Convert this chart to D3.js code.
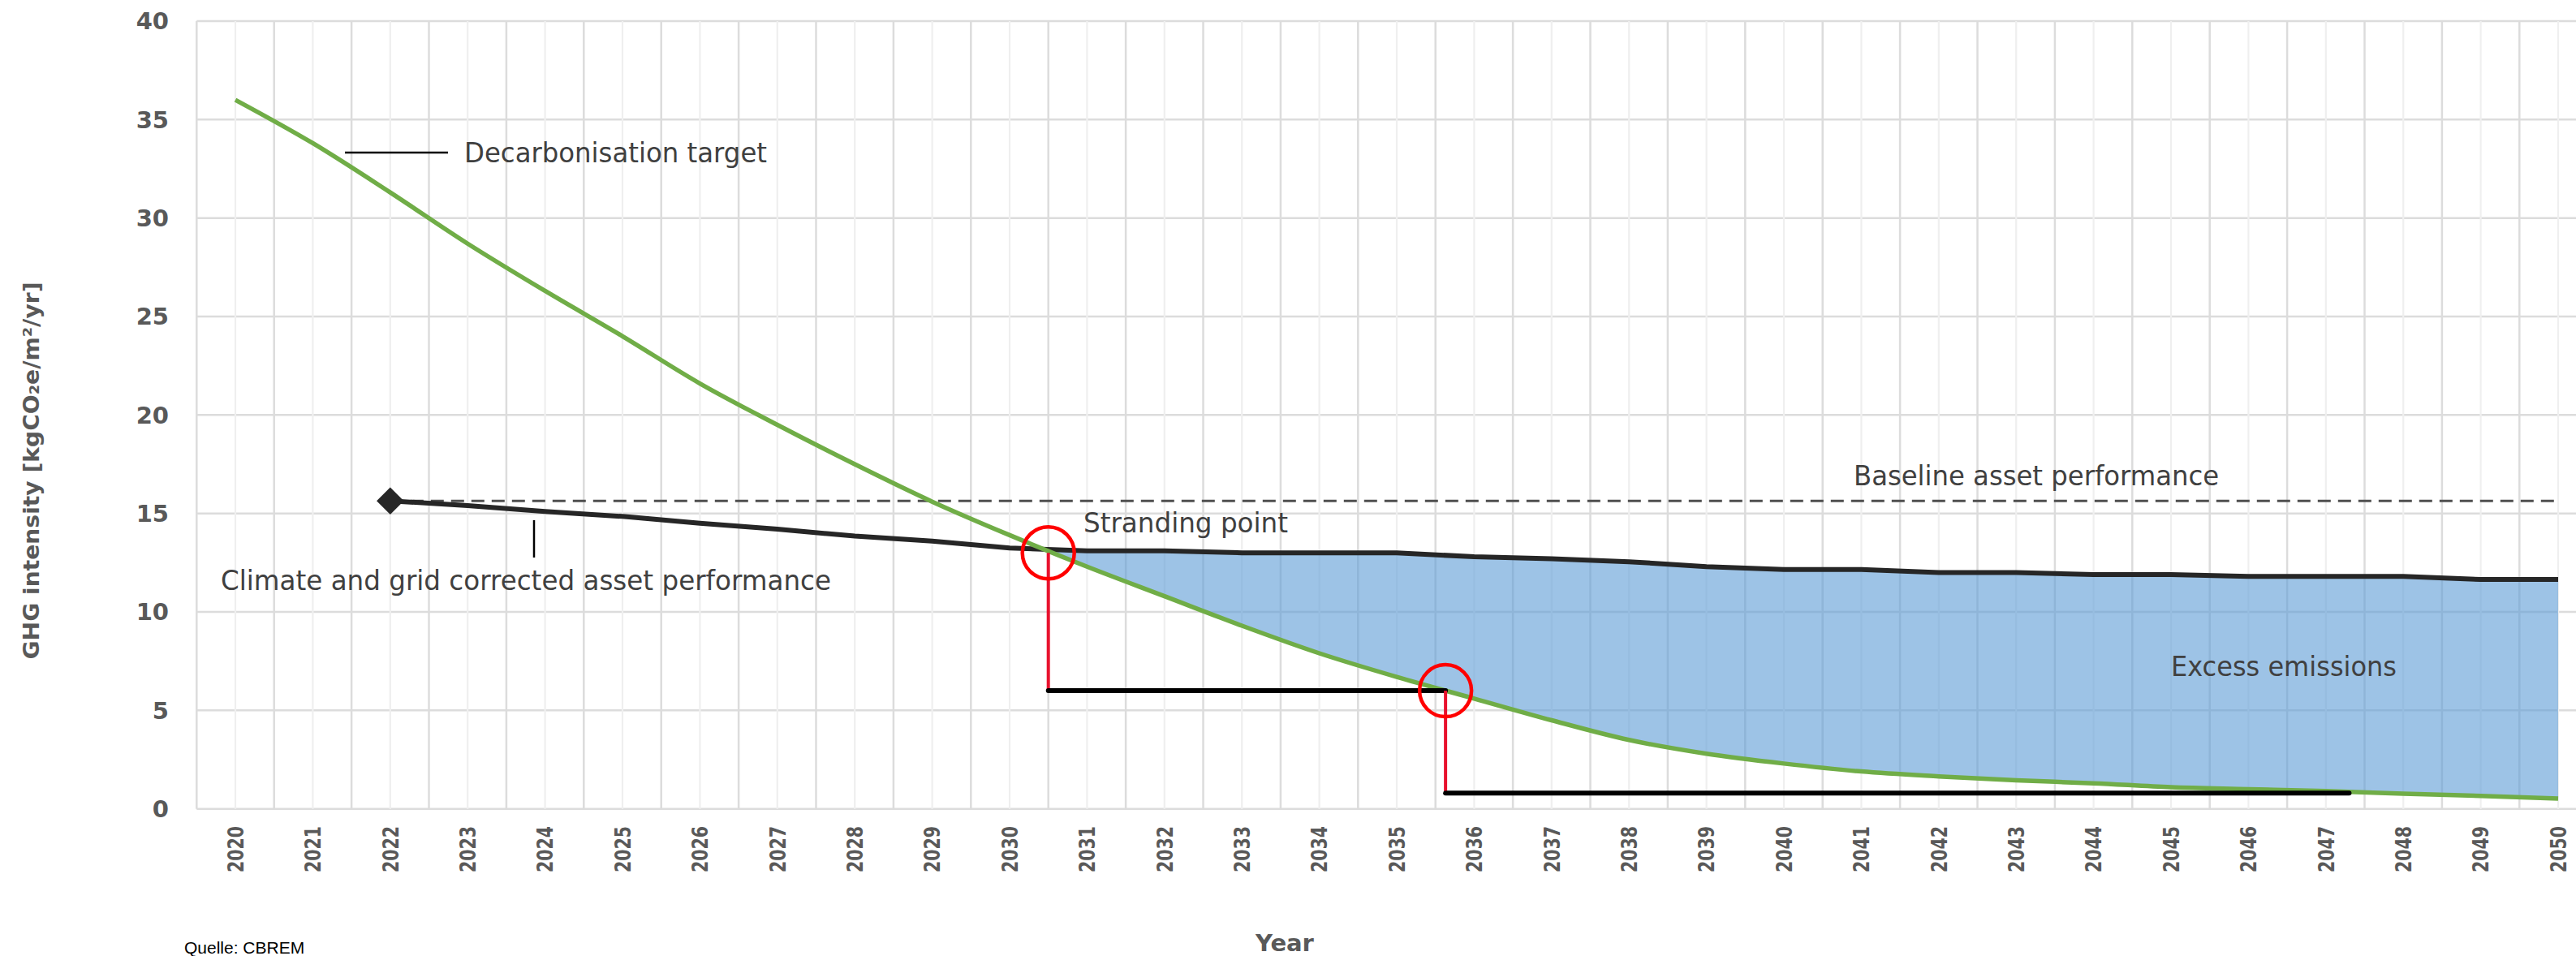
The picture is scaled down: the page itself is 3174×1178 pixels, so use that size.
<!DOCTYPE html>
<html>
<head>
<meta charset="utf-8">
<script src="https://cdn.jsdelivr.net/npm/d3@7"></script>
<style>
  body { margin: 0; background: #fff; }
  svg { display: block; }
  .tick-y, .tick-x, .axis-title { font-family: "DejaVu Sans", Verdana, sans-serif; font-weight: bold; fill: #595959; }
  .note { font-family: "DejaVu Sans", Tahoma, sans-serif; fill: #404040; }
</style>
</head>
<body>
<div id="chart"></div>
<script>
// categories
const years = [2020, 2021, 2022, 2023, 2024, 2025, 2026, 2027, 2028, 2029, 2030,
  2031, 2032, 2033, 2034, 2035, 2036, 2037, 2038, 2039, 2040,
  2041, 2042, 2043, 2044, 2045, 2046, 2047, 2048, 2049, 2050];

// decarbonisation target (green)
const targetValues = [36.0, 33.8, 31.3, 28.7, 26.3, 24.0, 21.6, 19.5, 17.5, 15.6, 13.9,
  12.3, 10.8, 9.3, 7.9, 6.7, 5.6, 4.5, 3.5, 2.8, 2.3,
  1.9, 1.65, 1.45, 1.3, 1.1, 1.0, 0.9, 0.77, 0.66, 0.52];

// climate and grid corrected asset performance (black), from 2022
const assetYears = years.slice(2);
const assetValues = [15.64, 15.4, 15.1, 14.85, 14.5, 14.2, 13.85, 13.6, 13.25,
  13.1, 13.1, 13.0, 13.0, 13.0, 12.8, 12.7, 12.55, 12.3, 12.15,
  12.15, 12.0, 12.0, 11.9, 11.9, 11.8, 11.8, 11.8, 11.65, 11.65];

// baseline asset performance (dashed)
const baselineValue = 15.64;

// stranding points and step levels
const strandYears = [2030.5, 2035.63, 2047.3];
const strandValues = [13.0, 6.0, 0.8];

const yTicks = [0, 5, 10, 15, 20, 25, 30, 35, 40];

const w = 3174;
const h = 1178;

const x = d3.scaleLinear()
  .domain([2019.5, 2050.5])
  .range([242.3, 3199.7]);

const y = d3.scaleLinear()
  .domain([0, 40])
  .range([996.7, 26]);

const svg = d3.select("#chart")
  .append("svg")
  .attr("width", w)
  .attr("height", h);

svg.append("rect")
  .attr("width", w)
  .attr("height", h)
  .attr("fill", "#fff");

// gridlines
const grid = svg.append("g");
grid.selectAll("line.hy")
  .data(yTicks)
  .enter()
  .append("line")
    .attr("x1", x(2019.5))
    .attr("x2", x(2050.5))
    .attr("y1", d => y(d))
    .attr("y2", d => y(d))
    .attr("stroke", "#dcdcdc")
    .attr("stroke-width", 2.5);

grid.selectAll("line.vc")
  .data(years)
  .enter()
  .append("line")
    .attr("x1", d => x(d))
    .attr("x2", d => x(d))
    .attr("y1", y(0))
    .attr("y2", y(40))
    .attr("stroke", "#efefef")
    .attr("stroke-width", 2.2);

grid.selectAll("line.vb")
  .data(years.map(d => d - 0.5).concat([2050.5]))
  .enter()
  .append("line")
    .attr("x1", d => x(d))
    .attr("x2", d => x(d))
    .attr("y1", y(0))
    .attr("y2", y(40))
    .attr("stroke", "#dcdcdc")
    .attr("stroke-width", 2.5);

// excess emissions area, from the crossing to 2050
const target = years.map((d, i) => ({ year: d, v: targetValues[i] }));
const asset = assetYears.map((d, i) => ({ year: d, v: assetValues[i] }));
const tv = yr => targetValues[years.indexOf(yr)];
let cross = null;
for (let i = 1; i < asset.length; i++) {
  const d0 = tv(asset[i - 1].year) - asset[i - 1].v;
  const d1 = tv(asset[i].year) - asset[i].v;
  if (d0 >= 0 && d1 < 0) {
    const t = d0 / (d0 - d1);
    cross = { year: asset[i - 1].year + t, v: asset[i - 1].v + t * (asset[i].v - asset[i - 1].v), i: i };
    break;
  }
}
const areaPts = [{ year: cross.year, lo: cross.v, hi: cross.v }]
  .concat(asset.slice(cross.i).map(d => ({ year: d.year, lo: tv(d.year), hi: d.v })));

svg.append("path")
  .datum(areaPts)
  .attr("fill", "#5b9bd5")
  .attr("fill-opacity", 0.6)
  .attr("d", d3.area()
    .x(d => x(d.year))
    .y0(d => y(d.lo))
    .y1(d => y(d.hi)));

// baseline dashed line
svg.append("line")
  .attr("x1", x(assetYears[0]))
  .attr("x2", x(2050))
  .attr("y1", y(baselineValue))
  .attr("y2", y(baselineValue))
  .attr("stroke", "#505050")
  .attr("stroke-width", 3)
  .attr("stroke-dasharray", "16 9");

// corrected asset performance
svg.append("path")
  .datum(asset)
  .attr("fill", "none")
  .attr("stroke", "#262626")
  .attr("stroke-width", 6)
  .attr("stroke-linejoin", "round")
  .attr("d", d3.line().x(d => x(d.year)).y(d => y(d.v)));

// decarbonisation target
svg.append("path")
  .datum(target)
  .attr("fill", "none")
  .attr("stroke", "#70ad47")
  .attr("stroke-width", 5.5)
  .attr("stroke-linejoin", "round")
  .attr("d", d3.line().curve(d3.curveMonotoneX).x(d => x(d.year)).y(d => y(d.v)));

// start marker
svg.append("path")
  .attr("d", d3.symbol().type(d3.symbolSquare).size(560))
  .attr("transform", `translate(${x(asset[0].year)},${y(asset[0].v)}) rotate(45)`)
  .attr("fill", "#262626");

// stranding steps
for (let i = 0; i < strandYears.length - 1; i++) {
  svg.append("line")
    .attr("x1", x(strandYears[i])).attr("x2", x(strandYears[i]))
    .attr("y1", y(strandValues[i])).attr("y2", y(strandValues[i + 1]))
    .attr("stroke", "#e8112d")
    .attr("stroke-width", 4);
  svg.append("line")
    .attr("x1", x(strandYears[i])).attr("x2", x(strandYears[i + 1]))
    .attr("y1", y(strandValues[i + 1])).attr("y2", y(strandValues[i + 1]))
    .attr("stroke", "#000")
    .attr("stroke-width", 6)
    .attr("stroke-linecap", "round");
}

svg.selectAll("circle.strand")
  .data(strandYears.slice(0, 2))
  .enter()
  .append("circle")
    .attr("cx", d => x(d))
    .attr("cy", (d, i) => y(strandValues[i]))
    .attr("r", 32)
    .attr("fill", "none")
    .attr("stroke", "#ff0000")
    .attr("stroke-width", 4.5);

// y tick labels
svg.selectAll("text.tick-y")
  .data(yTicks)
  .enter()
  .append("text")
    .attr("class", "tick-y")
    .attr("x", 208)
    .attr("y", d => y(d))
    .attr("dy", "0.36em")
    .attr("text-anchor", "end")
    .attr("font-size", 29)
    .text(d => d);

// x tick labels
svg.selectAll("text.tick-x")
  .data(years)
  .enter()
  .append("text")
    .attr("class", "tick-x")
    .attr("transform", d => `translate(${x(d)},1018) rotate(-90)`)
    .attr("dy", "0.36em")
    .attr("text-anchor", "end")
    .attr("font-size", 27)
    .attr("textLength", 57)
    .attr("lengthAdjust", "spacingAndGlyphs")
    .text(d => d);

// axis titles
svg.append("text")
  .attr("class", "axis-title")
  .attr("transform", "translate(38,580) rotate(-90)")
  .attr("dy", "0.36em")
  .attr("text-anchor", "middle")
  .attr("font-size", 27)
  .attr("textLength", 465)
  .attr("lengthAdjust", "spacingAndGlyphs")
  .text("GHG intensity [kgCO₂e/m²/yr]");

svg.append("text")
  .attr("class", "axis-title")
  .attr("x", 1583)
  .attr("y", 1172)
  .attr("text-anchor", "middle")
  .attr("font-size", 29)
  .text("Year");

// annotations
const note = (tx, ty, len, label) => svg.append("text")
  .attr("class", "note")
  .attr("x", tx)
  .attr("y", ty)
  .attr("font-size", 33)
  .attr("textLength", len)
  .attr("lengthAdjust", "spacingAndGlyphs")
  .text(label);

note(572, 200, 373, "Decarbonisation target");
note(272, 727, 752, "Climate and grid corrected asset performance");
note(2284, 598, 450, "Baseline asset performance");
note(1335, 656, 252, "Stranding point");
note(2675, 833, 278, "Excess emissions");

svg.append("line")
  .attr("x1", 425).attr("x2", 552)
  .attr("y1", 188).attr("y2", 188)
  .attr("stroke", "#000").attr("stroke-width", 2.5);

svg.append("line")
  .attr("x1", 658).attr("x2", 658)
  .attr("y1", 641).attr("y2", 687)
  .attr("stroke", "#000").attr("stroke-width", 2.5);

// source line at the bottom edge
svg.append("text")
  .attr("x", 227)
  .attr("y", 1175)
  .attr("font-family", "Liberation Sans, Arial, sans-serif")
  .attr("font-size", 21)
  .attr("fill", "#000")
  .text("Quelle: CBREM");
</script>
</body>
</html>
